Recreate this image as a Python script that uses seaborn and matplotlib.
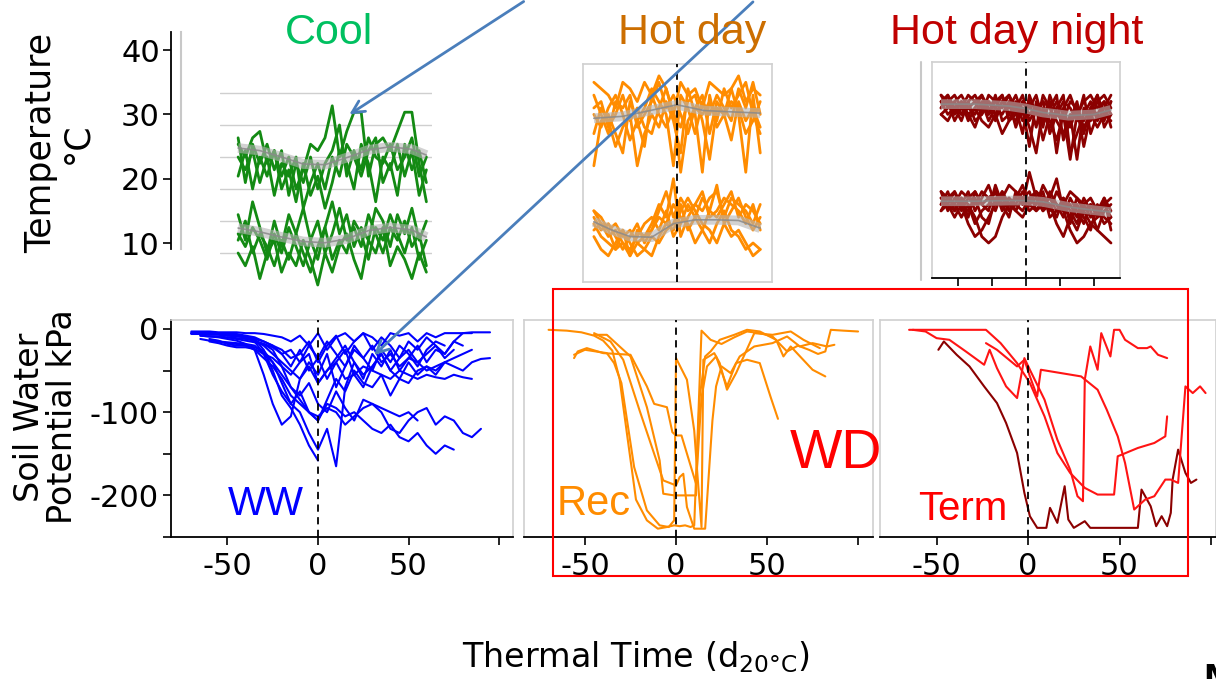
import numpy as np
import pandas as pd
import matplotlib
matplotlib.use("Agg")
import matplotlib.pyplot as plt
import seaborn as sns
from matplotlib.patches import Rectangle, FancyArrowPatch
from matplotlib.lines import Line2D

N = np.nan

# ---------------- temperature traces (daily max / min, deg C) ----------------
cool_tt = [-44, -40, -36, -32, -28, -24, -20, -16, -12, -8, -4, 0, 4, 8, 12, 16,
           20, 24, 28, 32, 36, 40, 44, 48, 52, 56, 60]
cool_max = [
    [27, 25, 28, 29, 24, 26, 22, 25, 20, 23, 27, 26, 28, 33, 25, 29, 32, 32, 22, 27, 28, 26, 29, 32, 32, 24, 18],
    [28, 21, 27, 24, 27, 23, 26, 19, 24, 21, 25, 20, 24, 26, 30, 22, 26, 23, 28, 25, 24, 27, 23, 25, 28, 22, 25],
    [22, 26, 20, 25, 22, 26, 20, 23, 18, 24, 19, 22, 17, 21, 26, 24, 20, 27, 24, 18, 25, 23, 27, 22, 26, 19, 23],
    [25, 23, 26, 21, 25, 19, 24, 22, 25, 17, 21, 24, 20, 25, 22, 27, 25, 22, 26, 28, 21, 24, 19, 27, 23, 26, 21],
]
cool_min = [
    [13, 11, 14, 12, 9, 13, 10, 14, 11, 8, 12, 15, 10, 13, 17, 12, 14, 11, 16, 13, 10, 14, 12, 15, 11, 13, 8],
    [12, 15, 10, 13, 11, 8, 12, 9, 13, 10, 7, 11, 14, 9, 12, 10, 15, 13, 9, 14, 12, 16, 13, 10, 14, 9, 12],
    [16, 12, 18, 14, 10, 15, 11, 16, 13, 17, 12, 9, 14, 18, 13, 16, 11, 14, 12, 17, 15, 11, 16, 13, 17, 12, 15],
    [10, 8, 11, 6, 10, 12, 7, 10, 8, 12, 9, 5, 10, 7, 11, 13, 9, 6, 12, 10, 14, 8, 11, 9, 6, 10, 7],
]
cool_fit_tt = [-44, -32, -20, -8, 4, 16, 28, 40, 52, 60]
cool_fit_max = [26.4, 26.0, 25.0, 23.9, 23.8, 24.9, 26.1, 26.6, 26.2, 25.3]
cool_fit_min = [13.9, 13.3, 12.5, 11.8, 11.6, 12.2, 13.5, 14.0, 13.6, 12.5]

hot_tt = [-46, -42, -38, -34, -30, -26, -22, -18, -14, -10, -6, -2, 2, 6, 10, 14,
          18, 22, 26, 30, 34, 38, 42, 46]
hot_max = [
    [35, 34, 33, 31, 35, 34, 32, 35, 33, 36, 34, 30, 35, 33, 34, 31, 35, 34, 33, 34, 36, 32, 34, 33],
    [30, 28, 31, 33, 30, 26, 29, 31, 34, 32, 30, 22, 33, 31, 27, 32, 30, 33, 31, 29, 34, 31, 35, 30],
    [27, 31, 29, 25, 28, 30, 22, 27, 30, 28, 32, 29, 24, 34, 30, 21, 33, 28, 30, 26, 32, 29, 31, 28],
    [31, 32, 28, 30, 33, 29, 31, 28, 27, 31, 34, 30, 28, 32, 33, 29, 23, 31, 30, 32, 31, 27, 29, 32],
    [22, 29, 30, 27, 24, 32, 29, 25, 33, 30, 28, 31, 21, 29, 31, 33, 27, 32, 30, 34, 30, 21, 33, 24],
    [33, 30, 27, 32, 31, 33, 28, 30, 32, 35, 31, 33, 30, 27, 31, 30, 32, 29, 34, 31, 33, 35, 30, 27],
]
hot_min = [
    [15, 14, 12, 13, 11, 12, 10, 11, 12, 15, 18, 14, 17, 15, 16, 18, 14, 15, 17, 16, 15, 13, 16, 12],
    [13, 11, 10, 9, 12, 8, 10, 9, 11, 10, 12, 13, 16, 12, 14, 17, 15, 19, 13, 15, 17, 14, 12, 14],
    [12, 13, 11, 12, 10, 9, 11, 13, 14, 12, 15, 11, 13, 16, 14, 12, 10, 13, 15, 12, 11, 9, 10, 9],
    [14, 12, 13, 11, 9, 11, 13, 10, 12, 14, 13, 16, 14, 13, 10, 12, 15, 14, 16, 18, 14, 16, 15, 13],
    [11, 9, 8, 10, 12, 10, 8, 9, 8, 11, 13, 12, 15, 17, 15, 13, 12, 10, 13, 11, 12, 10, 8, 9],
    [15, 13, 12, 9, 10, 8, 12, 11, 13, 16, 14, 20, 11, 14, 16, 15, 17, 18, 14, 17, 16, 15, 13, 16],
]
hot_fit_max_tt = [-46, -30, -15, 0, 15, 30, 46]
hot_fit_max = [29.4, 29.7, 30.6, 31.5, 30.6, 30.4, 30.2]
hot_fit_min_tt = [-46, -36, -26, -14, -2, 10, 22, 34, 46]
hot_fit_min = [13.3, 12.0, 11.0, 10.9, 13.0, 13.6, 13.6, 13.5, 12.3]

hdn_tt = [-50, -46, -42, -38, -34, -30, -26, -22, -18, -14, -10, -6, -2, 2, 6, 10,
          14, 18, 22, 26, 30, 34, 38, 42, 46, 50]
hdn_max = [
    [33, 32, 33, 31, 33, 32, 30, 33, 32, 31, 33, 30, 32, 31, 33, 29, 32, 24, 31, 33, 30, 32, 33, 31, 32, 30],
    [31, 33, 30, 32, 29, 31, 33, 30, 32, 33, 29, 31, 27, 33, 30, 32, 31, 33, 26, 29, 32, 27, 31, 33, 30, 32],
    [30, 31, 32, 33, 31, 30, 32, 29, 31, 30, 32, 28, 31, 25, 32, 30, 28, 31, 33, 24, 27, 30, 32, 29, 31, 33],
    [32, 30, 31, 29, 32, 33, 31, 32, 30, 32, 31, 33, 30, 32, 28, 33, 31, 29, 27, 30, 23, 31, 29, 32, 33, 31],
    [31, 32, 29, 31, 30, 28, 31, 30, 33, 29, 30, 32, 29, 30, 31, 26, 30, 32, 30, 28, 31, 25, 30, 28, 30, 29],
    [33, 31, 32, 30, 31, 32, 33, 31, 29, 32, 33, 31, 33, 29, 31, 32, 27, 30, 32, 31, 29, 33, 27, 30, 29, 32],
    [30, 29, 31, 32, 30, 31, 29, 28, 30, 27, 29, 30, 31, 28, 24, 31, 29, 26, 30, 23, 30, 29, 31, 30, 32, 28],
    [32, 33, 31, 30, 32, 29, 30, 32, 31, 33, 30, 29, 32, 30, 31, 28, 33, 30, 29, 32, 31, 28, 30, 33, 28, 30],
]
hdn_min = [
    [17, 16, 18, 15, 17, 16, 18, 17, 15, 18, 16, 17, 19, 16, 18, 17, 15, 18, 16, 14, 17, 15, 16, 14, 17, 15],
    [16, 18, 15, 17, 14, 18, 16, 15, 19, 16, 17, 15, 17, 18, 15, 17, 16, 14, 17, 15, 13, 16, 14, 15, 13, 14],
    [18, 15, 17, 16, 18, 15, 17, 19, 16, 18, 15, 17, 16, 21, 17, 15, 18, 16, 14, 17, 15, 13, 16, 15, 17, 12],
    [15, 17, 16, 14, 16, 13, 15, 16, 18, 15, 17, 16, 15, 17, 16, 18, 14, 15, 17, 13, 16, 14, 12, 16, 14, 13],
    [17, 16, 14, 16, 15, 17, 14, 13, 17, 16, 14, 18, 17, 15, 16, 19, 17, 20, 15, 16, 14, 17, 15, 12, 15, 16],
    [16, 17, 18, 16, 13, 11, 12, 14, 16, 17, 15, 16, 18, 16, 17, 15, 16, 13, 11, 14, 12, 15, 13, 14, 16, 14],
    [15, 16, 15, 17, 16, 14, 11, 10, 11, 14, 16, 15, 14, 16, 15, 16, 17, 16, 15, 12, 10, 11, 13, 12, 11, 10],
    [18, 17, 16, 18, 17, 18, 16, 17, 18, 17, 19, 18, 16, 17, 18, 16, 17, 15, 16, 18, 17, 16, 17, 15, 16, 17],
]
hdn_fit_tt = [-50, -30, -10, 0, 10, 25, 40, 50]
hdn_fit_max = [31.6, 31.6, 31.3, 30.9, 30.3, 29.8, 30.0, 30.7]
hdn_fit_min = [16.5, 16.5, 16.6, 16.6, 16.4, 15.6, 15.1, 14.8]

temp_ticks = [10, 20, 30, 40]
cool_grid = [10, 15, 20, 25, 30, 35]
hdn_xticks = [-40, -20, 0, 20, 40]

# ---------------- soil water potential (kPa) ----------------
ww_tt = [-70, -65, -60, -55, -50, -45, -40, -35, -30, -25, -20, -15, -10, -5, 0, 5,
         10, 15, 20, 25, 30, 35, 40, 45, 50, 55, 60, 65, 70, 75, 80, 85, 90, 95]
ww_swp = [
    [-5, -5, -5, -6, -6, -7, -9, -12, -25, -50, -80, -95, -115, -140, -158, N, N, N, N, N, N, N, N, N, N, N, N, N, N, N, N, N, N, N],
    [-5, -5, -6, -6, -7, -8, -10, -15, -30, -55, -75, -90, -100, -125, -145, -120, -165, -70, -40, -60, -30, -45, -25, -50, -35, -20, -40, -25, -30, -15, -5, -5, N, N],
    [N, N, -12, -14, -18, -20, -20, -25, -55, -90, -115, -105, -60, -40, -55, -30, -70, -45, -20, -35, -50, -25, -40, -20, -30, -45, -25, -15, -20, N, N, N, N, N],
    [N, -8, -9, -10, -12, -14, -18, -25, -35, -45, -60, -80, -90, -100, -105, -95, -100, -115, -105, -95, -90, -100, -120, -125, -110, -100, -95, -115, -105, -110, -125, -130, -120, N],
    [N, N, N, -15, -16, -17, -18, -20, -30, -40, -55, -70, -85, -100, -110, -90, -95, -105, -100, -110, -120, -125, -115, -130, -135, -125, -140, -150, -140, -145, N, N, N, N],
    [-5, -5, -5, -6, -7, -8, -10, -14, -20, -30, -40, -50, -60, -45, -65, -50, -40, -60, -55, -45, -50, -55, -60, -50, -55, -60, -55, -58, -60, -55, -58, -60, N, N],
    [N, N, -4, -5, -5, -6, -8, -10, -15, -20, -30, -25, -40, -20, -35, -15, -30, -45, -25, -35, -20, -40, -30, -45, -35, -40, -50, -45, -40, -45, -50, -40, -36, -35],
    [-3, -3, -3, -4, -4, -4, -5, -5, -6, -8, -10, -15, -8, -20, -5, -25, -10, -5, -15, -5, -10, -20, -5, -8, -5, -15, -5, -10, -5, -5, -5, -4, -4, -4],
    [N, N, -15, -17, -20, -22, -22, -24, -30, -35, -45, -55, -40, -30, -65, -50, -35, -20, -40, -55, -45, -30, -50, -35, -25, -40, -30, -20, -35, -25, N, N, N, N],
    [N, -12, -14, -15, -17, -18, -20, -22, -26, -40, -65, -90, -75, -100, -110, -85, -60, -75, -50, -65, -70, -55, -80, -60, -65, -50, -45, -55, -40, N, N, N, N, N],
    [-6, -6, -7, -7, -8, -9, -10, -12, -15, -20, -25, -35, -30, -15, -40, -20, -8, -30, -15, -5, -25, -10, -20, -35, -15, -25, -10, -20, -30, -15, -20, N, N, N],
    [N, N, N, N, -10, -12, -14, -16, -18, -25, -45, -70, -80, -65, -90, -100, -75, -95, -110, -85, -90, -95, -100, -105, -100, -110, N, N, N, N, N, N, N, N],
    [N, -8, -9, -9, -10, -11, -12, -14, -18, -22, -30, -45, -25, -50, -35, -60, -40, -25, -55, -70, -45, -30, -50, -60, -40, -55, -45, -50, -40, -35, -30, -25, N, N],
]

rec_tt = [
    [-70, -60, -52, -45, -40, -35, -31, -27, -22, -16, -10, -5, -1, 2, 5, 8, 10, 12, 14, 19, 25, 32, 39, 46, 53, 61, 67, 73, 78, 82, 85, 92, 100],
    [-45, -38, -25, -16, -9, -7, -1, 11, 12, 13, 16, 19, 24, 32, 39, 46, 55, 59, 63, 75, 82],
    [-56, -54, -49, -40, -25, -16, -12, -5, -2, 0, 3, 11, 14, 17, 22, 28, 33, 39, 46, 52, 56],
    [-45, -36, -29, -20, -12, -7, 0, 2, 4, 6, 10, 16, 20, 22, 25, 30, 35, 43, 53, 61, 68, 75, 83, 87],
    [-56, -50, -38, -34, -30, -23, -16, -9, -4, -1, 0, 6, 10, 12, 14, 15, 21, 24, 28, 33, 43, 53, 63, 70, 79],
]
rec_swp = [
    [-1, -2, -4, -8, -14, -26, -60, -125, -205, -230, -240, -238, -236, -237, -236, -238, -236, -120, -2, -13, -18, -10, -3, -5, -9, -27, -20, -25, -30, -27, -1, -2, -3],
    [-7, -7, -33, -94, -158, -198, -200, -200, -130, -82, -33, -27, -13, -7, -1, -3, -13, -33, -21, -49, -57],
    [-35, -27, -23, -29, -31, -69, -90, -94, -124, -128, -128, -186, -82, -45, -33, -69, -41, -37, -41, -82, -108],
    [-5, -15, -37, -98, -150, -182, -188, -178, -174, -214, -240, -240, -110, -69, -45, -53, -33, -21, -17, -9, -21, -17, -21, -19],
    [-31, -25, -29, -41, -65, -166, -218, -236, -238, -230, -35, -61, -122, -182, -238, -37, -29, -41, -73, -53, -5, -7, -3, -13, -23],
]

term_tt = [
    [-49, -46, -39, -32, -24, -17, -12, -6, -2, 1, 5, 10, 12, 16, 20, 22, 25, 31, 34, 49, 60, 62, 67, 70, 73, 76, 78, 79, 82, 86, 89, 92],
    [-65, -57, -39, -23, -15, -6, 1, 9, 16, 23, 31, 38, 47, 49, 60, 69, 75, 76],
    [-23, -17, -6, -2, 1, 5, 7, 29, 38, 43, 49, 53, 58, 64, 69, 75, 78, 82, 86, 90, 94, 97],
    [-63, -56, -50, -43, -34, -24, -21, -17, -12, -6, -2, 1, 9, 16, 23, 27, 30, 31, 34, 38, 40, 45, 47, 50, 53, 60, 65, 67, 71, 76],
]
term_swp = [
    [-25, -15, -31, -45, -69, -89, -113, -149, -197, -225, -239, -239, -215, -233, -189, -229, -239, -231, -239, -239, -239, -193, -213, -237, -225, -237, -221, -181, -145, -173, -185, -181],
    [-1, -1, -1, -1, -17, -41, -65, -105, -149, -173, -191, -199, -199, -153, -143, -137, -129, -105],
    [-17, -25, -45, -37, -57, -81, -49, -57, -73, -97, -129, -161, -217, -205, -201, -181, -181, -185, -69, -77, -69, -77],
    [-1, -3, -11, -13, -27, -43, -25, -47, -69, -83, -35, -49, -85, -133, -169, -201, -207, -61, -21, -49, -5, -33, -1, -1, -13, -23, -23, -21, -31, -35],
]
term_colors = ["#8b0000", "#ff1414", "#ff1414", "#ff1414"]

swp_major = [0, -100, -200]
swp_minor = [-50, -150, -250]
tt_ticks = [-50, 0, 50, 100]
tt_labels = ["-50", "0", "50", ""]

# ---------------- figure ----------------
W, H = 1216, 679
sns.set_style("white")
plt.rcParams["font.family"] = ["DejaVu Sans"]
plt.rcParams["axes.unicode_minus"] = False
for key in ("text.color", "axes.labelcolor", "xtick.color", "ytick.color"):
    plt.rcParams[key] = "black"
fig = plt.figure(figsize=(W / 100, H / 100), dpi=100)

GREY = "#d0d0d0"


def place(x0, y0, x1, y1):
    return fig.add_axes([x0 / W, 1 - y1 / H, (x1 - x0) / W, (y1 - y0) / H])


def fx(x):
    return x / W


def fy(y):
    return 1 - y / H


def long_form(tt, series):
    rows = []
    for i, vals in enumerate(series):
        t = tt[i] if isinstance(tt[0], list) else tt
        for a, b in zip(t, vals):
            rows.append((i, a, b))
    return pd.DataFrame(rows, columns=["line", "tt", "value"]).dropna()


def draw_lines(ax, tt, series, color, lw):
    df = long_form(tt, series)
    sns.lineplot(data=df, x="tt", y="value", units="line", estimator=None,
                 sort=False, color=color, lw=lw, ax=ax, legend=False)


def draw_fit(ax, tt, vals):
    ax.plot(tt, vals, color="#b4b4b4", lw=7, alpha=0.6, solid_capstyle="butt", zorder=5)
    ax.plot(tt, vals, color="#8a8a8a", lw=1.2, alpha=0.85, zorder=6)


def clean(ax):
    ax.set_xlabel("")
    ax.set_ylabel("")
    ax.set_facecolor("none")


# temperature axis
ax_t = place(171, 32, 181, 249)
ax_t.set_ylim(9.07, 42.8)
ax_t.set_yticks(temp_ticks)
ax_t.set_xticks([])
for s in ("top", "bottom"):
    ax_t.spines[s].set_visible(False)
ax_t.spines["left"].set_color("black")
ax_t.spines["left"].set_linewidth(1.3)
ax_t.spines["right"].set_color("#c8c8c8")
ax_t.spines["right"].set_linewidth(1.5)
ax_t.tick_params(axis="y", labelsize=22, length=6, width=1.2, pad=2, left=True)
ax_t.set_facecolor("none")

# Cool
ax_c = place(220, 85, 432, 290)
draw_lines(ax_c, cool_tt, cool_max + cool_min, "#138a13", 2.0)
draw_fit(ax_c, cool_fit_tt, cool_fit_max)
draw_fit(ax_c, cool_fit_tt, cool_fit_min)
ax_c.set_xlim(-54, 63.1)
ax_c.set_ylim(4.22, 36.25)
ax_c.set_yticks(cool_grid)
ax_c.set_xticks([])
ax_c.grid(axis="y", color="#cfcfcf", lw=1)
ax_c.set_axisbelow(True)
ax_c.tick_params(left=False, labelleft=False)
for s in ax_c.spines.values():
    s.set_visible(False)
clean(ax_c)

# Hot day
ax_h = place(583, 64, 772, 282)
draw_lines(ax_h, hot_tt, hot_max + hot_min, "#ff8c00", 2.0)
draw_fit(ax_h, hot_fit_max_tt, hot_fit_max)
draw_fit(ax_h, hot_fit_min_tt, hot_fit_min)
ax_h.axvline(0, color="black", ls=(0, (4, 3)), lw=1.3, zorder=7)
ax_h.set_xlim(-52, 52.5)
ax_h.set_ylim(3.93, 37.84)
ax_h.set_xticks([])
ax_h.set_yticks([])
for s in ax_h.spines.values():
    s.set_color(GREY)
    s.set_linewidth(1.2)
clean(ax_h)

# Hot day night
ax_n = place(932, 62, 1120, 278)
draw_lines(ax_n, hdn_tt, hdn_max + hdn_min, "#8b0000", 2.0)
draw_fit(ax_n, hdn_fit_tt, hdn_fit_max)
draw_fit(ax_n, hdn_fit_tt, hdn_fit_min)
ax_n.axvline(0, color="black", ls=(0, (4, 3)), lw=1.3, zorder=7)
ax_n.set_xlim(-55.3, 55.3)
ax_n.set_ylim(4.56, 38.15)
ax_n.set_xticks(hdn_xticks)
ax_n.set_yticks([])
ax_n.tick_params(axis="x", bottom=True, length=6, width=1.2, labelbottom=False)
for s in ax_n.spines.values():
    s.set_color(GREY)
    s.set_linewidth(1.2)
ax_n.spines["bottom"].set_color("black")
ax_n.spines["bottom"].set_linewidth(1.3)
clean(ax_n)
fig.add_artist(Line2D([fx(921), fx(921)], [fy(62), fy(280)], color="#c8c8c8", lw=1.5))


def swp_axes(x0, x1, xlim, left_black):
    ax = place(x0, 320, x1, 537)
    ax.set_xlim(*xlim)
    ax.set_ylim(-250, 10.8)
    ax.axvline(0, color="black", ls=(0, (4, 3)), lw=1.3, zorder=7)
    ax.set_xticks(tt_ticks)
    ax.set_xticklabels(tt_labels)
    ax.tick_params(axis="x", bottom=True, length=6, width=1.2, labelsize=22, pad=5)
    for s in ax.spines.values():
        s.set_color(GREY)
        s.set_linewidth(1.2)
    ax.spines["bottom"].set_color("black")
    ax.spines["bottom"].set_linewidth(1.3)
    if left_black:
        ax.spines["left"].set_color("black")
        ax.spines["left"].set_linewidth(1.3)
        ax.set_yticks(swp_major)
        ax.set_yticks(swp_minor, minor=True)
        ax.tick_params(axis="y", which="both", left=True, length=6, width=1.2,
                       labelsize=22, pad=3)
    else:
        ax.set_yticks([])
    return ax


ax_w = swp_axes(171, 513, (-81.2, 107.7), True)
draw_lines(ax_w, ww_tt, ww_swp, "#0000ff", 1.5)
clean(ax_w)

ax_r = swp_axes(524, 873, (-83.5, 108.2), False)
draw_lines(ax_r, rec_tt, rec_swp, "#ff8c00", 1.5)
clean(ax_r)

ax_m = swp_axes(880, 1216, (-80.9, 102.7), False)
for i in range(len(term_tt)):
    draw_lines(ax_m, [term_tt[i]], [term_swp[i]], term_colors[i], 1.5)
clean(ax_m)

# titles and labels
fig.text(fx(329), fy(44), "Cool", color="#00c060", fontsize=31, ha="center",
         va="baseline", family="Liberation Sans")
fig.text(fx(692), fy(44), "Hot day", color="#cc6e00", fontsize=31, ha="center",
         va="baseline", family="Liberation Sans")
fig.text(fx(1017), fy(44), "Hot day night", color="#c00000", fontsize=31, ha="center",
         va="baseline", family="Liberation Sans")
fig.text(fx(59), fy(143), "Temperature\n°C", rotation=90, fontsize=25, ha="center",
         va="center", linespacing=1.1)
fig.text(fx(46), fy(417), "Soil Water\nPotential kPa", rotation=90, fontsize=24,
         ha="center", va="center", linespacing=1.0)
fig.text(fx(228), fy(515), "WW", color="#0000ff", fontsize=29, va="baseline",
         family="Liberation Sans")
fig.text(fx(557), fy(515), "Rec", color="#ff8c00", fontsize=30, va="baseline",
         family="Liberation Sans")
fig.text(fx(918), fy(520), "Term", color="#ff0000", fontsize=29, va="baseline",
         family="Liberation Sans")
fig.text(fx(790), fy(468), "WD", color="#ff0000", fontsize=40, va="baseline",
         family="Liberation Sans")
fig.text(fx(462), fy(667), r"Thermal Time (d$_{\mathregular{20°C}}$)", fontsize=24,
         va="baseline")
fig.text(fx(1203), fy(686), "M", fontsize=22, fontweight="bold", va="baseline")

# water-deficit box
fig.add_artist(Rectangle((fx(553), fy(576)), fx(1188) - fx(553), fy(289) - fy(576),
                         transform=fig.transFigure, fill=False, ec="#ff0000", lw=1.5))

# callout arrows
for (x0, y0), (x1, y1) in [((526, 0), (347, 116)), ((755, 0), (372, 357))]:
    fig.add_artist(FancyArrowPatch((fx(x0), fy(y0)), (fx(x1), fy(y1)),
                                   transform=fig.transFigure, arrowstyle="->",
                                   mutation_scale=22, color="#4a7ebb", lw=2))

fig.savefig("out.png", dpi=100)
